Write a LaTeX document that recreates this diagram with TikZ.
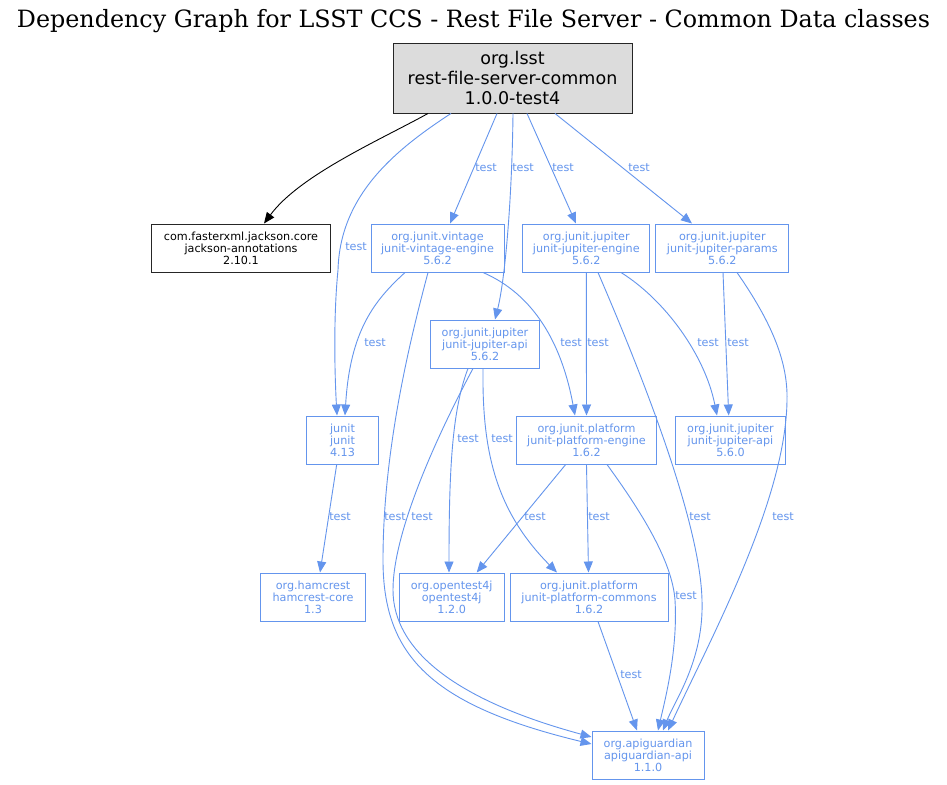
\documentclass[tikz,border=0pt]{standalone}
\usepackage{graphicx}
\usepackage{fontspec}
\setmainfont{DejaVu Sans}
\newfontfamily\titlefont{DejaVu Serif}
\usetikzlibrary{arrows.meta,calc}
\definecolor{cfblue}{RGB}{100,149,237}
\definecolor{gains}{RGB}{220,220,220}
\begin{document}
\begin{tikzpicture}[x=1pt,y=-1pt,
  box/.style={draw=cfblue, text=cfblue, line width=1pt, inner sep=0pt, align=center,
    minimum height=48pt, font=\fontsize{11.2}{11.9}\selectfont},
  blackbox/.style={box, draw=black!85, text=black},
  rootbox/.style={draw=black!85, fill=gains, text=black, line width=0.95pt, inner sep=0pt, align=center,
    minimum width=239pt, minimum height=70pt, font=\fontsize{17.5}{19.7}\selectfont},
  dep/.style={draw=cfblue, line width=0.9pt, -{Triangle[length=11pt,width=9pt]}},
  blackdep/.style={draw=black, line width=0.9pt, -{Triangle[length=11pt,width=9pt]}},
  lbl/.style={text=cfblue, inner sep=0pt, font=\fontsize{11.2}{12}\selectfont}
]
\useasboundingbox[fill=white] (0,0) rectangle (947,784);

\node[anchor=base, inner sep=0pt] (title) at (473.5,28)
  {\resizebox{913pt}{!}{\titlefont Dependency Graph for LSST CCS - Rest File Server - Common Data classes}};

% nodes
\node[rootbox] (root) at (512.5,78) {org.lsst\\rest-file-server-common\\1.0.0-test4};
\node[blackbox, minimum width=179pt] (jackson) at (241,248) {com.fasterxml.jackson.core\\jackson-annotations\\2.10.1};
\node[box, minimum width=133pt] (vintage) at (437.5,248) {org.junit.vintage\\junit-vintage-engine\\5.6.2};
\node[box, minimum width=127pt] (jengine) at (586.3,248) {org.junit.jupiter\\junit-jupiter-engine\\5.6.2};
\node[box, minimum width=133pt] (params) at (722.3,248) {org.junit.jupiter\\junit-jupiter-params\\5.6.2};
\node[box, minimum width=109pt] (japiA) at (485,344) {org.junit.jupiter\\junit-jupiter-api\\5.6.2};
\node[box, minimum width=72pt] (junit) at (342.5,440) {junit\\junit\\4.13};
\node[box, minimum width=139.5pt] (pengine) at (586.5,440) {org.junit.platform\\junit-platform-engine\\1.6.2};
\node[box, minimum width=110pt] (japiB) at (730.5,440) {org.junit.jupiter\\junit-jupiter-api\\5.6.0};
\node[box, minimum width=105pt] (hamcrest) at (313,597) {org.hamcrest\\hamcrest-core\\1.3};
\node[box, minimum width=105pt] (opentest) at (451.7,597) {org.opentest4j\\opentest4j\\1.2.0};
\node[box, minimum width=158pt] (pcommons) at (589,597) {org.junit.platform\\junit-platform-commons\\1.6.2};
\node[box, minimum width=112pt] (apig) at (648,755) {org.apiguardian\\apiguardian-api\\1.1.0};

% edges from root
\draw[blackdep] ([xshift=-84.5pt]root.south) .. controls (380,140) and (300,175) .. ([xshift=23pt]jackson.north);
\draw[dep] ([xshift=-61.5pt]root.south) .. controls (395,150) and (340,195) .. (338,270)
   .. controls (333,320) and (335,380) .. ([xshift=-5.5pt]junit.north);
\draw[dep] ([xshift=-15.5pt]root.south) -- ([xshift=12.5pt]vintage.north);
\draw[dep] ([xshift=0.5pt]root.south) .. controls (512,200) and (505,280) .. ([xshift=10pt]japiA.north);
\draw[dep] ([xshift=14.5pt]root.south) -- ([xshift=-10.3pt]jengine.north);
\draw[dep] ([xshift=42.5pt]root.south) -- ([xshift=-30.3pt]params.north);

% edges from vintage
\draw[dep] ([xshift=-32.5pt]vintage.south) .. controls (375,300) and (350,330) .. ([xshift=2.5pt]junit.north);
\draw[dep] ([xshift=-9.5pt]vintage.south) .. controls (410,340) and (383,450) .. (383,560)
   .. controls (383,655) and (430,705) .. ([yshift=11pt]apig.west);
\draw[dep] ([xshift=45.5pt]vintage.south) .. controls (535,295) and (562,345) .. ([xshift=-11.5pt]pengine.north);

% edges from jupiter-api 5.6.2
\draw[dep] ([xshift=-17pt]japiA.south) .. controls (452,410) and (449,470) .. ([xshift=-2.7pt]opentest.north);
\draw[dep] ([xshift=-2pt]japiA.south) .. controls (482,450) and (495,510) .. ([xshift=-32pt]pcommons.north);
\draw[dep] ([xshift=-12pt]japiA.south) .. controls (440,430) and (393,530) .. (393,590)
   .. controls (393,650) and (455,700) .. ([yshift=18pt]apig.west);

% edges from jupiter-engine
\draw[dep] (jengine.south) -- (pengine.north);
\draw[dep] ([xshift=34.7pt]jengine.south) .. controls (665,300) and (705,355) .. ([xshift=-13.5pt]japiB.north);
\draw[dep] ([xshift=11.7pt]jengine.south) .. controls (640,370) and (700,520) .. (702,600)
   .. controls (704,660) and (675,700) .. ([xshift=15pt]apig.north);

% edges from params
\draw[dep] ([xshift=0.7pt]params.south) -- ([xshift=-1.8pt]japiB.north);
\draw[dep] ([xshift=14.7pt]params.south) .. controls (770,320) and (788,360) .. (787,400)
   .. controls (786,500) and (710,640) .. ([xshift=20pt]apig.north);

% lower edges
\draw[dep] ([xshift=-5.8pt]junit.south) -- ([xshift=7pt]hamcrest.north);
\draw[dep] ([xshift=-20.8pt]pengine.south) -- ([xshift=25pt]opentest.north);
\draw[dep] (pengine.south) -- ([xshift=-0.5pt]pcommons.north);
\draw[dep] ([xshift=20.5pt]pengine.south) .. controls (640,510) and (672,560) .. (675,600)
   .. controls (678,650) and (665,700) .. ([xshift=10pt]apig.north);
\draw[dep] ([xshift=9pt]pcommons.south) -- ([xshift=-11pt]apig.north);

% labels
\node[lbl] (l2) at (356,247) {test};
\node[lbl] (l3) at (486,168) {test};
\node[lbl] (l4) at (523,168) {test};
\node[lbl] (l5) at (563,168) {test};
\node[lbl] (l6) at (639,168) {test};
\node[lbl] (l7) at (375,343) {test};
\node[lbl] (l9) at (571,343) {test};
\node[lbl] (l13) at (598,343) {test};
\node[lbl] (l14) at (708,343) {test};
\node[lbl] (l16) at (738,343) {test};
\node[lbl] (l10) at (468,439) {test};
\node[lbl] (l11) at (502,439) {test};
\node[lbl] (l18) at (340,517) {test};
\node[lbl] (l8) at (395,517) {test};
\node[lbl] (l12) at (422,517) {test};
\node[lbl] (l19) at (535,517) {test};
\node[lbl] (l20) at (599,517) {test};
\node[lbl] (l15) at (700,517) {test};
\node[lbl] (l17) at (783,517) {test};
\node[lbl] (l21) at (686,596) {test};
\node[lbl] (l22) at (631,675) {test};
\end{tikzpicture}
\end{document}
